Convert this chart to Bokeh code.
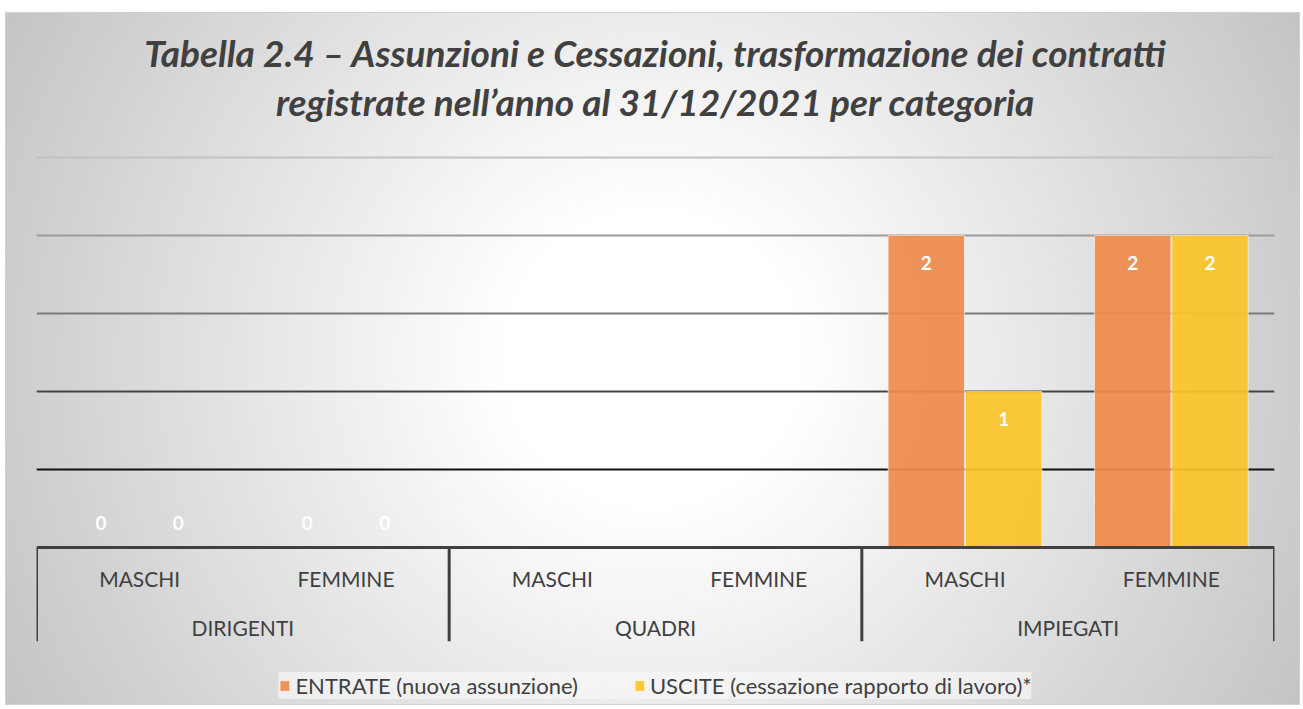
import numpy as np
from bokeh.plotting import figure
from bokeh.models import (FactorRange, ColumnDataSource, Span, Grid, FixedTicker,
                          Legend, LegendItem)
from bokeh.transform import dodge
from bokeh.core.properties import value
from bokeh.embed import file_html
from bokeh.resources import INLINE

# ---------------- data ----------------
TITLE_1 = "Tabella 2.4 – Assunzioni e Cessazioni, trasformazione dei contratti"
TITLE_2 = "registrate nell’anno al 31/12/2021 per categoria"
CATEGORIES = ["DIRIGENTI", "QUADRI", "IMPIEGATI"]
GENDERS = ["MASCHI", "FEMMINE"]
SERIES = ["ENTRATE (nuova assunzione)", "USCITE (cessazione rapporto di lavoro)*"]
ENTRATE = [0, 0, None, None, 2, 2]
USCITE = [0, 0, None, None, 1, 2]
GRID_TICKS = [0.5, 1.0, 1.5, 2.0, 2.5]

# ---------------- style ----------------
COLORS = ["#EE8B4C", "#FBC42A"]
GRID_COLORS = ["#111111", "#444444", "#7a7a7a", "#9c9c9c", "#c2c2c2"]
TEXT_COLOR = "#404040"
FONT = "Lato"
Y_START, Y_END = -0.987, 3.43
AXIS_BOTTOM = -0.6
BAR_W = 0.37
OFFS = [-0.1875, 0.1875]

factors = [(c, g) for c in CATEGORIES for g in GENDERS]

p = figure(x_range=FactorRange(*factors, range_padding=0, group_padding=0,
                               factor_padding=0),
           y_range=(Y_START, Y_END),
           width=1295, height=693, output_backend="svg", toolbar_location=None,
           x_axis_location=None, y_axis_location=None,
           min_border_left=31, min_border_right=26, min_border_top=0,
           min_border_bottom=4)
p.title.visible = False
p.outline_line_color = None
p.background_fill_alpha = 0
p.border_fill_alpha = 0
p.styles = {
    "margin": "12px 0 0 5px",
    "background": "radial-gradient(circle farthest-corner at 50% 50%, #ffffff 0%, #ffffff 20%, #c4c4c4 100%)",
    "box-shadow": "inset 0 0 0 1px #d0d0d0",
}
for g in p.grid:
    g.visible = False

# gridlines, darker towards the baseline
for t, c in zip(GRID_TICKS, GRID_COLORS):
    p.add_layout(Grid(dimension=1, ticker=FixedTicker(ticks=[t]),
                      grid_line_color=c, grid_line_width=2))

# bars
renderers = []
for series_vals, off, col in zip([ENTRATE, USCITE], OFFS, COLORS):
    v = np.array([np.nan if x is None else x for x in series_vals], dtype=float)
    src = ColumnDataSource(dict(
        x=factors,
        top=v,
        label=["" if np.isnan(a) else f"{a:g}" for a in v],
        yoff=[-25 if (not np.isnan(a) and a == 0) else 27 for a in v],
    ))
    r = p.vbar(x=dodge("x", off, range=p.x_range), top="top", bottom=0, width=BAR_W,
               source=src, fill_color=col, fill_alpha=0.93,
               line_color="white", line_alpha=0.55, line_width=1)
    renderers.append(r)
    p.text(x=dodge("x", off, range=p.x_range), y="top", text="label", y_offset="yoff",
           source=src, text_align="center", text_baseline="middle",
           text_color="white", text_font=value(FONT), text_font_style="bold",
           text_font_size="19px")

# baseline
p.add_layout(Span(location=0, dimension="width", line_color=TEXT_COLOR, line_width=3))

# category separators below the baseline
sep_x = [(c, GENDERS[0], -0.5) for c in CATEGORIES] + [(CATEGORIES[-1], GENDERS[-1], 0.5)]
p.segment(x0=sep_x, x1=sep_x, y0=[0] * len(sep_x), y1=[AXIS_BOTTOM] * len(sep_x),
          line_color=TEXT_COLOR, line_width=3)

# axis labels (two levels)
p.text(x=factors, y=[0] * len(factors), text=[f[1] for f in factors], y_offset=31,
       text_align="center", text_baseline="middle", text_color=TEXT_COLOR,
       text_font=value(FONT), text_font_size="21px")
p.text(x=CATEGORIES, y=[0] * len(CATEGORIES), text=CATEGORIES, y_offset=80,
       text_align="center", text_baseline="middle", text_color=TEXT_COLOR,
       text_font=value(FONT), text_font_size="21px")

# two-line title, centred over the plot area, anchored above the top gridline
center_x = len(factors) / 2
p.text(x=[center_x, center_x], y=[GRID_TICKS[-1]] * 2, text=[TITLE_1, TITLE_2],
       y_offset=[-105, -56], text_align="center", text_baseline="middle",
       text_color=TEXT_COLOR, text_font=value(FONT), text_font_style="bold italic",
       text_font_size="37px")

# legend
legend = Legend(items=[LegendItem(label=s, renderers=[r]) for s, r in zip(SERIES, renderers)],
                orientation="horizontal", location="bottom_center",
                label_text_font=FONT, label_text_font_size="22px",
                label_text_color=TEXT_COLOR, glyph_width=12, glyph_height=13,
                label_standoff=5, spacing=55, padding=10, margin=2,
                background_fill_color="#f6f6f6", background_fill_alpha=0.7,
                border_line_color=None)
p.add_layout(legend)

open("out.html", "w").write(file_html(p, INLINE))
